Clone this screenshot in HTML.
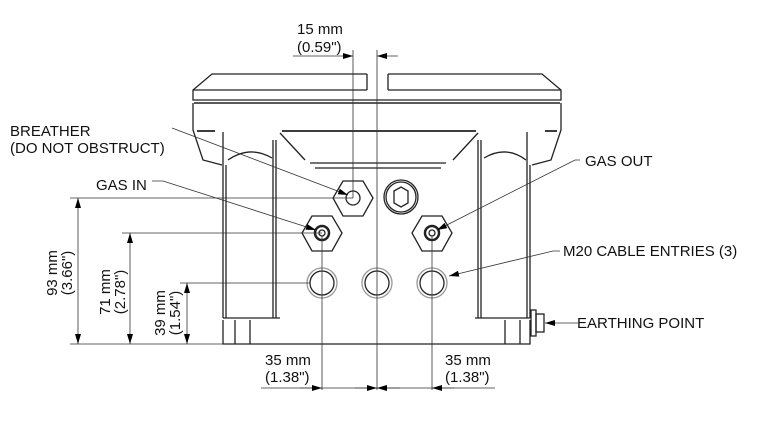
<!DOCTYPE html>
<html><head><meta charset="utf-8"><style>
html,body{margin:0;padding:0;background:#fff;width:768px;height:422px;overflow:hidden}
svg{display:block}
text{font-family:"Liberation Sans",Arial,sans-serif;font-size:15px;fill:#111}
</style></head><body>
<svg width="768" height="422" viewBox="0 0 768 422" xmlns="http://www.w3.org/2000/svg">
<defs>
<marker id="a" viewBox="0 0 10 6" refX="10" refY="3" markerWidth="10" markerHeight="6" orient="auto-start-reverse" markerUnits="userSpaceOnUse"><path d="M0,0 L10,3 L0,6 z" fill="#000"/></marker>
</defs>
<g fill="none" stroke="#222" stroke-width="1.3">
<!-- lid -->
<path d="M367,74 L212,74 L193,90 L193,100 L561,100 L561,90 L542,74 L388,74"/>
<path d="M193,90 L367,90 M388,90 L561,90"/>
<path d="M367,74 V90 M388,74 V90"/>
<path d="M194,103 H560" stroke-width="1.6"/>
<!-- body upper -->
<path d="M193,103 V130 L203,160 L222,165 M561,103 V130 L551,160 L532,165"/>
<path d="M197,131 H215 M545,131 H557 M282,131 H476" stroke-width="1.8"/>
<path d="M280,133 L305,160 M478,133 L453,160"/>
<path d="M310,163 H446 M315,168 H441"/>
<path d="M228,160 Q250,145 272,158 M484,158 Q506,145 526,160"/>
<!-- rails -->
<path d="M223,132 V318 M226,165 V318 M273,140 V318 M276,140 V318"/>
<path d="M478,140 V318 M481,140 V318 M527,132 V318 M530,165 V318"/>
<!-- base -->
<path d="M223,318 H280 M475,318 H530 M223,320 V344 H530 V320"/>
<path d="M235,320 V344 M250,320 V344 M505,320 V344 M520,320 V344"/>
<!-- hexes -->
<path d="M343,181 L363,181 L373,198 L363,216 L343,216 L333,198 Z"/>
<circle cx="353" cy="198" r="7"/>
<circle cx="401" cy="197" r="17"/><circle cx="401" cy="197" r="15"/>
<path d="M394,191 L401,187 L408,191 L408,203 L401,207 L394,203 Z"/>
<path d="M312,216 L332,216 L342,233 L332,251 L312,251 L302,233 Z"/>
<circle cx="322" cy="233" r="7" stroke-width="2.5"/><circle cx="322" cy="233" r="3"/>
<path d="M422,216 L442,216 L452,233 L442,251 L422,251 L412,233 Z"/>
<circle cx="432" cy="233" r="7" stroke-width="2.5"/><circle cx="432" cy="233" r="3"/>
<!-- cable entries -->
<circle cx="322" cy="283" r="12"/><circle cx="322" cy="283" r="15" stroke="#999"/>
<circle cx="377" cy="283" r="12"/><circle cx="377" cy="283" r="15" stroke="#999"/>
<circle cx="432" cy="283" r="12"/><circle cx="432" cy="283" r="15" stroke="#999"/>
<!-- earthing bolt -->
<rect x="531" y="310" width="5" height="26"/><rect x="536" y="314" width="8" height="18"/>
</g>
<g fill="none" stroke="#333" stroke-width="0.8">
<path d="M293,56 H353" marker-end="url(#a)"/><path d="M398,56 H377" marker-end="url(#a)"/>
<path d="M353,50 V198 M377,50 V390"/>
<path d="M261,388 H495"/>
<path d="M322,236 V390 M432,236 V390"/>
<path d="M300,388 H322" marker-end="url(#a)"/><path d="M355,388 H377" marker-end="url(#a)"/>
<path d="M400,388 H377" marker-end="url(#a)"/><path d="M454,388 H432" marker-end="url(#a)"/>
<path d="M70,198 H353 M122,233 H322 M180,283 H310 M70,344 H223"/>
<path d="M78,198 V344" marker-start="url(#a)" marker-end="url(#a)"/>
<path d="M130,233 V344" marker-start="url(#a)" marker-end="url(#a)"/>
<path d="M187,283 V344" marker-start="url(#a)" marker-end="url(#a)"/>
<path d="M172,128 L348,195" marker-end="url(#a)"/>
<path d="M152,181 L163,181 L316,230" marker-end="url(#a)"/>
<path d="M580,160 L575,160 L437,230" marker-end="url(#a)"/>
<path d="M560,251 L553,251 L449,276" marker-end="url(#a)"/>
<path d="M578,323 H545" marker-end="url(#a)"/>
</g>
<text x="297" y="34">15 mm</text>
<text x="297" y="52">(0.59")</text>
<text x="10" y="136">BREATHER</text>
<text x="10" y="153">(DO NOT OBSTRUCT)</text>
<text x="96" y="190">GAS IN</text>
<text x="585" y="166">GAS OUT</text>
<text x="563" y="256">M20 CABLE ENTRIES (3)</text>
<text x="577" y="328">EARTHING POINT</text>
<text x="265" y="365">35 mm</text>
<text x="265" y="382">(1.38")</text>
<text x="445" y="365">35 mm</text>
<text x="445" y="382">(1.38")</text>
<text transform="translate(57,273) rotate(-90)" text-anchor="middle">93 mm</text>
<text transform="translate(72,273) rotate(-90)" text-anchor="middle">(3.66")</text>
<text transform="translate(110,292) rotate(-90)" text-anchor="middle">71 mm</text>
<text transform="translate(125,292) rotate(-90)" text-anchor="middle">(2.78")</text>
<text transform="translate(165,313) rotate(-90)" text-anchor="middle">39 mm</text>
<text transform="translate(180,313) rotate(-90)" text-anchor="middle">(1.54")</text>
</svg>
</body></html>
